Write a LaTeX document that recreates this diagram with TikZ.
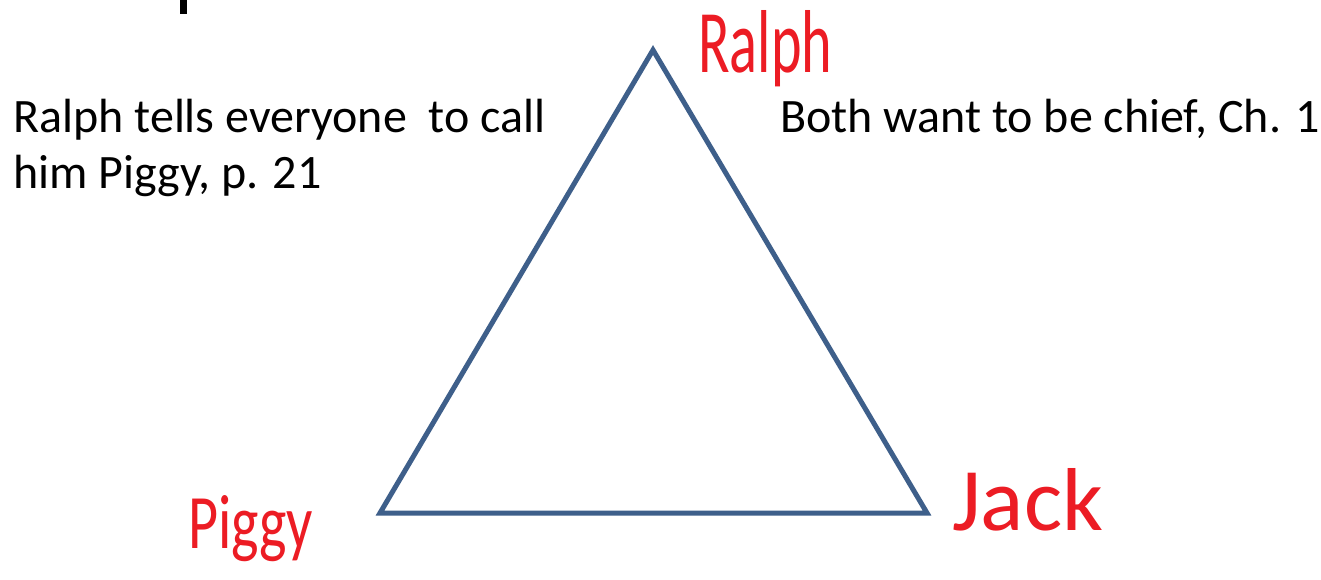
\documentclass[tikz,border=0pt]{standalone}
\usepackage{fontspec}
\usepackage{graphicx}
\setmainfont{Carlito}
\definecolor{triblue}{RGB}{62,95,138}
\definecolor{inkred}{RGB}{236,28,36}
\tikzset{
  body/.style={anchor=base west,inner sep=0pt,font=\fontsize{48}{55}\selectfont,text=black},
  hand/.style={anchor=base west,inner sep=0pt,text=inkred},
  side/.style={draw=triblue,line width=5pt,line join=miter}
}
\begin{document}
\begin{tikzpicture}[x=1pt,y=-1pt]
\useasboundingbox (0,0) rectangle (1321,579);
\fill[white] (0,0) rectangle (1321,579);
% cut-off title fragment
\fill[black] (180,0) rectangle (187,14);
% triangle corners
\coordinate (top) at (653,50);
\coordinate (bl) at (380,513);
\coordinate (br) at (927,513);
\draw[side] (top) -- (br) -- (bl) -- cycle;
% texts
\node[body] (t1) at (13,132) {Ralph tells everyone\ \ to call};
\node[body] (t2) at (13,188) {him Piggy, p. 21};
\node[body] (t3) at (780,132) {Both want to be chief, Ch. 1};
% handwritten labels
\node[hand] (lr) at (698,72) {\resizebox{134pt}{62pt}{Ralph}};
\node[hand] (lp) at (188,548) {\resizebox{125pt}{53pt}{Piggy}};
\node[hand] (lj) at (952,530) {\resizebox{151pt}{62pt}{Jack}};
\end{tikzpicture}
\end{document}
